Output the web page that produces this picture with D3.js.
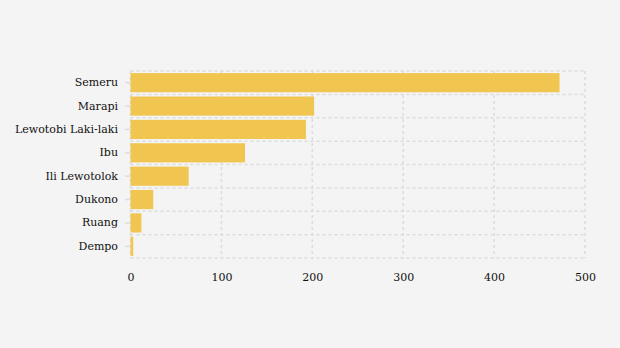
<!DOCTYPE html>
<html><head><meta charset="utf-8">
<script src="https://cdn.jsdelivr.net/npm/d3@7"></script>
<style>
html,body{margin:0;padding:0;background:#f4f4f4;}
text{font-family:"DejaVu Serif",serif;}
</style></head>
<body>
<svg id="c" width="620" height="348"></svg>
<script>
const categories = ["Semeru","Marapi","Lewotobi Laki-laki","Ibu","Ili Lewotolok","Dukono","Ruang","Dempo"];
const values = [472, 202, 193, 126, 64, 25, 12, 3];
const xTicks = [0,100,200,300,400,500];

const svg = d3.select("#c");
svg.append("rect").attr("width",620).attr("height",348).attr("fill","#f4f4f4");
const m = {left:130.5, right:35, top:71, bottom:90};
const W = 620, H = 348;
const x = d3.scaleLinear().domain([0,500]).range([m.left, W - m.right]);
const y = d3.scaleBand().domain(categories).range([m.top, H - m.bottom]).paddingInner(0.18).paddingOuter(0.09);

const grid = svg.append("g");
const step = y.step();
const bounds = d3.range(categories.length + 1).map(i => m.top + i*step);
grid.selectAll("line.h").data(bounds).join("line")
  .attr("x1", x(0)).attr("x2", x(500)).attr("y1", d=>d).attr("y2", d=>d)
  .attr("stroke","#dcdcdc").attr("stroke-width",1.5).attr("stroke-dasharray","3,3");
grid.selectAll("line.v").data(xTicks).join("line")
  .attr("x1", d=>x(d)).attr("x2", d=>x(d)).attr("y1", m.top).attr("y2", H - m.bottom)
  .attr("stroke","#dcdcdc").attr("stroke-width",1.5).attr("stroke-dasharray","3,3");

svg.append("g").selectAll("rect").data(categories).join("rect")
  .attr("x", x(0)).attr("y", d=>y(d))
  .attr("width", (d,i)=>x(values[i]) - x(0)).attr("height", y.bandwidth())
  .attr("fill","#f0c651");

const ya = svg.append("g").attr("transform",`translate(${x(0)-0.5},0)`)
  .call(d3.axisLeft(y).tickSize(5).tickPadding(7));
ya.select(".domain").remove();
ya.selectAll(".tick line").attr("stroke","#dddddd").attr("stroke-width",1.5);
ya.selectAll("text").attr("font-family","DejaVu Serif").attr("font-size",11).attr("fill","#111");

const xa = svg.append("g").attr("transform",`translate(0,${H - m.bottom})`)
  .call(d3.axisBottom(x).tickValues(xTicks).tickSize(0).tickPadding(15));
xa.select(".domain").remove();
xa.selectAll("text").attr("font-family","DejaVu Serif").attr("font-size",11).attr("fill","#111");
</script>
</body></html>
